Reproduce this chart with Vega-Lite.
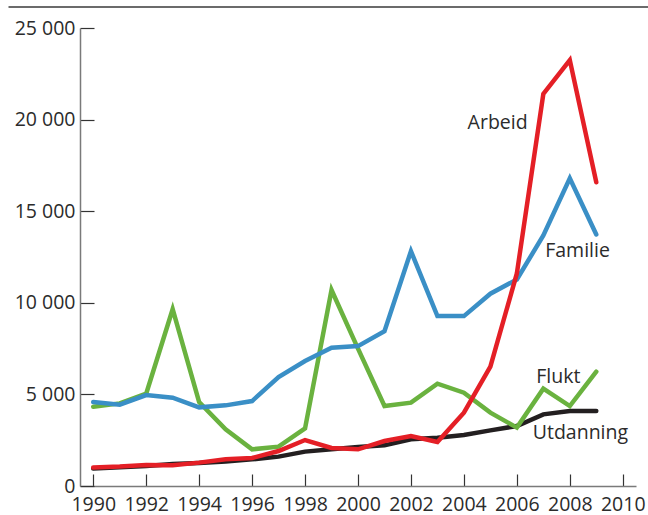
{
  "$schema": "https://vega.github.io/schema/vega-lite/v6.json",
  "width": 556,
  "height": 458,
  "autosize": {"type": "none"},
  "padding": {"left": 80, "top": 28, "right": 12, "bottom": 29},
  "background": "white",
  "config": {
    "view": {"stroke": null},
    "font": "Open Sans",
    "axis": {
      "grid": false,
      "title": null,
      "labelFont": "Open Sans",
      "labelFontSize": 19.5,
      "labelColor": "#2b2b2b",
      "domainColor": "#7a7a7a",
      "domainWidth": 1.5,
      "tickColor": "#333333",
      "tickWidth": 1.2
    }
  },
  "datasets": {
    "series": [
      {"serie": "Utdanning", "year": 1990, "value": 950},
      {"serie": "Utdanning", "year": 1991, "value": 1020},
      {"serie": "Utdanning", "year": 1992, "value": 1090},
      {"serie": "Utdanning", "year": 1993, "value": 1200},
      {"serie": "Utdanning", "year": 1994, "value": 1250},
      {"serie": "Utdanning", "year": 1995, "value": 1331},
      {"serie": "Utdanning", "year": 1996, "value": 1456},
      {"serie": "Utdanning", "year": 1997, "value": 1604},
      {"serie": "Utdanning", "year": 1998, "value": 1876},
      {"serie": "Utdanning", "year": 1999, "value": 2002},
      {"serie": "Utdanning", "year": 2000, "value": 2127},
      {"serie": "Utdanning", "year": 2001, "value": 2220},
      {"serie": "Utdanning", "year": 2002, "value": 2547},
      {"serie": "Utdanning", "year": 2003, "value": 2640},
      {"serie": "Utdanning", "year": 2004, "value": 2782},
      {"serie": "Utdanning", "year": 2005, "value": 3038},
      {"serie": "Utdanning", "year": 2006, "value": 3273},
      {"serie": "Utdanning", "year": 2007, "value": 3911},
      {"serie": "Utdanning", "year": 2008, "value": 4091},
      {"serie": "Utdanning", "year": 2009, "value": 4100},
      {"serie": "Flukt", "year": 1990, "value": 4331},
      {"serie": "Flukt", "year": 1991, "value": 4511},
      {"serie": "Flukt", "year": 1992, "value": 5040},
      {"serie": "Flukt", "year": 1993, "value": 9650},
      {"serie": "Flukt", "year": 1994, "value": 4582},
      {"serie": "Flukt", "year": 1995, "value": 3093},
      {"serie": "Flukt", "year": 1996, "value": 2002},
      {"serie": "Flukt", "year": 1997, "value": 2149},
      {"serie": "Flukt", "year": 1998, "value": 3148},
      {"serie": "Flukt", "year": 1999, "value": 10700},
      {"serie": "Flukt", "year": 2000, "value": 7500},
      {"serie": "Flukt", "year": 2001, "value": 4364},
      {"serie": "Flukt", "year": 2002, "value": 4549},
      {"serie": "Flukt", "year": 2003, "value": 5586},
      {"serie": "Flukt", "year": 2004, "value": 5095},
      {"serie": "Flukt", "year": 2005, "value": 4004},
      {"serie": "Flukt", "year": 2006, "value": 3186},
      {"serie": "Flukt", "year": 2007, "value": 5313},
      {"serie": "Flukt", "year": 2008, "value": 4364},
      {"serie": "Flukt", "year": 2009, "value": 6240},
      {"serie": "Familie", "year": 1990, "value": 4582},
      {"serie": "Familie", "year": 1991, "value": 4440},
      {"serie": "Familie", "year": 1992, "value": 4964},
      {"serie": "Familie", "year": 1993, "value": 4822},
      {"serie": "Familie", "year": 1994, "value": 4293},
      {"serie": "Familie", "year": 1995, "value": 4402},
      {"serie": "Familie", "year": 1996, "value": 4637},
      {"serie": "Familie", "year": 1997, "value": 5946},
      {"serie": "Familie", "year": 1998, "value": 6819},
      {"serie": "Familie", "year": 1999, "value": 7550},
      {"serie": "Familie", "year": 2000, "value": 7637},
      {"serie": "Familie", "year": 2001, "value": 8455},
      {"serie": "Familie", "year": 2002, "value": 12819},
      {"serie": "Familie", "year": 2003, "value": 9274},
      {"serie": "Familie", "year": 2004, "value": 9274},
      {"serie": "Familie", "year": 2005, "value": 10495},
      {"serie": "Familie", "year": 2006, "value": 11275},
      {"serie": "Familie", "year": 2007, "value": 13676},
      {"serie": "Familie", "year": 2008, "value": 16800},
      {"serie": "Familie", "year": 2009, "value": 13730},
      {"serie": "Arbeid", "year": 1990, "value": 1004},
      {"serie": "Arbeid", "year": 1991, "value": 1058},
      {"serie": "Arbeid", "year": 1992, "value": 1146},
      {"serie": "Arbeid", "year": 1993, "value": 1130},
      {"serie": "Arbeid", "year": 1994, "value": 1276},
      {"serie": "Arbeid", "year": 1995, "value": 1456},
      {"serie": "Arbeid", "year": 1996, "value": 1527},
      {"serie": "Arbeid", "year": 1997, "value": 1909},
      {"serie": "Arbeid", "year": 1998, "value": 2509},
      {"serie": "Arbeid", "year": 1999, "value": 2073},
      {"serie": "Arbeid", "year": 2000, "value": 2002},
      {"serie": "Arbeid", "year": 2001, "value": 2455},
      {"serie": "Arbeid", "year": 2002, "value": 2727},
      {"serie": "Arbeid", "year": 2003, "value": 2400},
      {"serie": "Arbeid", "year": 2004, "value": 4004},
      {"serie": "Arbeid", "year": 2005, "value": 6513},
      {"serie": "Arbeid", "year": 2006, "value": 11600},
      {"serie": "Arbeid", "year": 2007, "value": 21400},
      {"serie": "Arbeid", "year": 2008, "value": 23250},
      {"serie": "Arbeid", "year": 2009, "value": 16583}
    ],
    "labels": [
      {"label": "Arbeid", "year": 2004.14, "value": 19513},
      {"label": "Familie", "year": 2007.07, "value": 12476},
      {"label": "Flukt", "year": 2006.73, "value": 5640},
      {"label": "Utdanning", "year": 2006.6, "value": 2547}
    ],
    "border": [
      {"x1": 1986.8, "x2": 2011.0, "y": 26150}
    ]
  },
  "layer": [
    {
      "data": {"name": "border"},
      "mark": {"type": "rule", "color": "#6b6b6b", "strokeWidth": 2},
      "encoding": {
        "x": {"field": "x1", "type": "quantitative", "scale": {"domain": [1989.5, 2010.5], "nice": false, "zero": false}},
        "x2": {"field": "x2"},
        "y": {"field": "y", "type": "quantitative", "scale": {"domain": [0, 25000], "nice": false}}
      }
    },
    {
      "data": {"name": "series"},
      "mark": {"type": "line", "strokeWidth": 4.5, "strokeCap": "round"},
      "encoding": {
        "x": {
          "field": "year", "type": "quantitative",
          "scale": {"domain": [1989.5, 2010.5], "nice": false, "zero": false},
          "axis": {
            "values": [1990,1991,1992,1993,1994,1995,1996,1997,1998,1999,2000,2001,2002,2003,2004,2005,2006,2007,2008,2009,2010],
            "tickSize": -12,
            "labelPadding": 21,
            "labelExpr": "datum.value % 2 == 0 ? '' + datum.value : ''",
            "labelOverlap": false,
            "labelFlush": false
          }
        },
        "y": {
          "field": "value", "type": "quantitative",
          "scale": {"domain": [0, 25000], "nice": false},
          "axis": {
            "values": [0, 5000, 10000, 15000, 20000, 25000],
            "tickSize": -14,
            "labelPadding": 19,
            "labelExpr": "replace(format(datum.value, ',d'), ',', ' ')",
            "labelOverlap": false,
            "labelFlush": false
          }
        },
        "color": {
          "field": "serie", "type": "nominal",
          "scale": {"domain": ["Utdanning", "Flukt", "Familie", "Arbeid"], "range": ["#231f20", "#6ab23f", "#3a8fc6", "#e41f26"]},
          "legend": null
        },
        "order": {"field": "year", "type": "quantitative"}
      }
    },
    {
      "data": {"name": "labels"},
      "mark": {"type": "text", "align": "left", "baseline": "alphabetic", "font": "Open Sans", "fontSize": 19.5, "color": "#2b2b2b"},
      "encoding": {
        "x": {"field": "year", "type": "quantitative"},
        "y": {"field": "value", "type": "quantitative"},
        "text": {"field": "label", "type": "nominal"}
      }
    }
  ]
}
